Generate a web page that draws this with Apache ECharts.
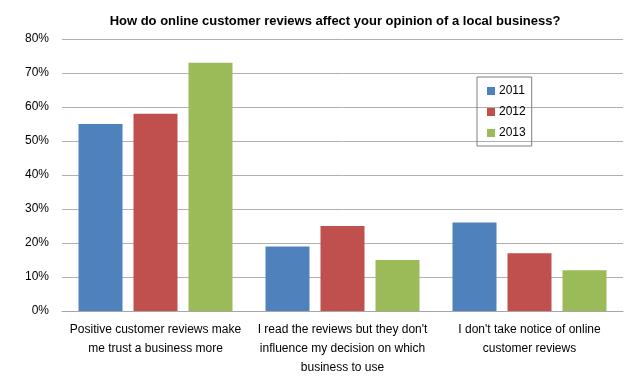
<!DOCTYPE html>
<html>
<head>
<meta charset="utf-8">
<script src="https://cdn.jsdelivr.net/npm/echarts@6/dist/echarts.min.js"></script>
<style>
  html, body {margin:0; padding:0; background:#fff;}
  #chart {width:635px; height:377px;}
</style>
</head>
<body>
<div id="chart"></div>
<script>
var title_text = 'How do online customer reviews affect your opinion of a local business?';
var categories = [
    'Positive customer reviews make\nme trust a business more',
    'I read the reviews but they don\'t\ninfluence my decision on which\nbusiness to use',
    'I don\'t take notice of online\ncustomer reviews'
];
var years = ['2011', '2012', '2013'];
var values_2011 = [55, 19, 26];
var values_2012 = [58, 25, 17];
var values_2013 = [73, 15, 12];
var colors = ['#4F81BD', '#C0504D', '#9BBB59'];

var font = 'Liberation Sans, Arial, sans-serif';

var myChart = echarts.init(document.getElementById('chart'));

var series_values = [values_2011, values_2012, values_2013];
var series = years.map(function(y, i){
    return {
        name: y,
        type: 'bar',
        data: series_values[i],
        barWidth: 44,
        barGap: '25%',
        itemStyle: {color: colors[i]}
    };
});

var option = {
    animation: false,
    title: {
        text: title_text,
        left: 330,
        textAlign: 'center',
        top: 10,
        textStyle: {fontSize: 13, fontWeight: 'bold', fontFamily: font, color: '#000'}
    },
    legend: {
        data: years,
        orient: 'vertical',
        left: 477,
        top: 77,
        padding: [8, 6, 7, 10],
        itemWidth: 8,
        itemHeight: 8,
        itemGap: 9,
        icon: 'rect',
        borderColor: '#808080',
        borderWidth: 1,
        textStyle: {fontSize: 12, fontFamily: font, color: '#000', padding: [0, 0, 0, -1]}
    },
    grid: {left: 62, right: 12, top: 39, bottom: 65, containLabel: false},
    xAxis: {
        type: 'category',
        data: categories,
        axisLine: {lineStyle: {color: '#A6A6A6', width: 1}},
        axisTick: {show: false},
        axisLabel: {
            fontSize: 12, fontFamily: font, color: '#000',
            lineHeight: 19, margin: 9, interval: 0
        }
    },
    yAxis: {
        type: 'value',
        min: 0, max: 80, interval: 10,
        axisLine: {show: false},
        axisTick: {show: false},
        splitLine: {lineStyle: {color: '#B0B0B0', width: 1}},
        axisLabel: {
            formatter: '{value}%',
            fontSize: 12, fontFamily: font, color: '#000', margin: 13
        }
    },
    series: series
};

myChart.setOption(option);
</script>
</body>
</html>
